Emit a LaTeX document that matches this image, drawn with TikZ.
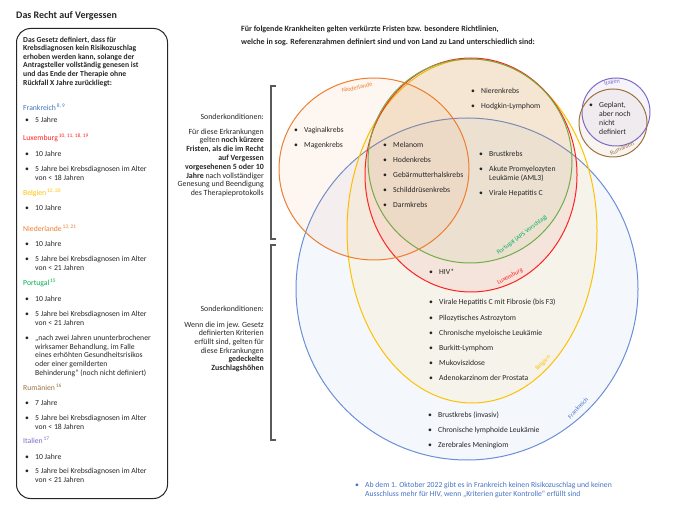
\documentclass[tikz,border=0pt]{standalone}
\usepackage{fontspec}
\setmainfont{Carlito}
\usetikzlibrary{positioning}

\definecolor{txtcol}{HTML}{262626}
\definecolor{frcol}{HTML}{4472C4}
\definecolor{frline}{HTML}{6A8FD8}
\definecolor{lucol}{HTML}{FF2020}
\definecolor{becol}{HTML}{FFC000}
\definecolor{nlcol}{HTML}{ED7D31}
\definecolor{ptcol}{HTML}{70AD47}
\definecolor{pttxt}{HTML}{00B050}
\definecolor{rocol}{HTML}{A0703F}
\definecolor{itcol}{HTML}{7F68C8}
\definecolor{brcol}{HTML}{595959}

\newcommand{\fs}{\fontsize{7.7}{9}\selectfont}
\newcommand{\itm}[1]{\makebox[10pt][l]{\textbullet}\begin{tabular}[t]{@{}l@{}}#1\end{tabular}}
\newcommand{\sups}[1]{\textsuperscript{\,#1}}

\tikzset{
  txt/.style={anchor=base west, inner sep=0pt, font=\fs, text=txtcol},
  land/.style={txt, text=#1},
  rtxt/.style={anchor=base east, inner sep=0pt, font=\fontsize{7.9}{8.8}\selectfont, text=txtcol, align=right},
  lbl/.style={inner sep=0pt, font=\fontsize{6.2}{7}\selectfont, text=#1},
  venn/.style={line width=1pt, draw=#1, fill=#1, fill opacity=0.07},
  klammer/.style={line width=1.3pt, draw=brcol},
  gesetzbox/.style={draw=txtcol, line width=1pt, rounded corners=14pt, anchor=north west}
}

\begin{document}
\begin{tikzpicture}[x=1pt, y=-1pt]
\useasboundingbox (0,0) rectangle (674,510);

% linke Seite: Recht auf Vergessen
\node[anchor=west, inner sep=0pt, font=\bfseries\fontsize{10}{12}\selectfont, text=txtcol] (titel) at (16,16) {Das Recht auf Vergessen};
\node[gesetzbox, minimum width=151pt, minimum height=470pt] (box) at (16,28) {};
\node[txt, anchor=north west, align=left, font=\bfseries\fontsize{7.7}{8.6}\selectfont] (gesetz) at (23,36.5) {Das Gesetz definiert, dass für\\Krebsdiagnosen kein Risikozuschlag\\erhoben werden kann, solange der\\Antragsteller vollständig genesen ist\\und das Ende der Therapie ohne\\Rückfall X Jahre zurückliegt:};

\node[land=frcol] (fr) at (23,110.5) {Frankreich\sups{8, 9}};
\node[txt] (fr1) at (25,122.5) {\itm{5 Jahre}};
\node[land=lucol] (lu) at (23,140.5) {Luxemburg\sups{10, 11, 18, 19}};
\node[txt] (lu1) at (25,156.5) {\itm{10 Jahre}};
\node[txt] (lu2) at (25,171.5) {\itm{5 Jahre bei Krebsdiagnosen im Alter\\von < 18 Jahren}};
\node[land=becol] (be) at (23,195.5) {Belgien\sups{12, 20}};
\node[txt] (be1) at (25,210.5) {\itm{10 Jahre}};
\node[land=nlcol] (nl) at (23,231.5) {Niederlande\sups{13, 21}};
\node[txt] (nl1) at (25,246.5) {\itm{10 Jahre}};
\node[txt] (nl2) at (25,261.5) {\itm{5 Jahre bei Krebsdiagnosen im Alter\\von < 21 Jahren}};
\node[land=pttxt] (pt) at (23,285.5) {Portugal\sups{15}};
\node[txt] (pt1) at (25,301.5) {\itm{10 Jahre}};
\node[txt] (pt2) at (25,316.5) {\itm{5 Jahre bei Krebsdiagnosen im Alter\\von < 21 Jahren}};
\node[txt, font=\fontsize{7.7}{8.7}\selectfont] (pt3) at (25,340.5) {\itm{„nach zwei Jahren ununterbrochener\\wirksamer Behandlung, im Falle\\eines erhöhten Gesundheitsrisikos\\oder einer gemilderten\\Behinderung“ (noch nicht definiert)}};
\node[land=rocol] (ro) at (23,390.5) {Rumänien\sups{16}};
\node[txt] (ro1) at (25,405.5) {\itm{7 Jahre}};
\node[txt] (ro2) at (25,420.5) {\itm{5 Jahre bei Krebsdiagnosen im Alter\\von < 18 Jahren}};
\node[land=itcol] (it) at (23,443.5) {Italien\sups{17}};
\node[txt] (it1) at (25,459.5) {\itm{10 Jahre}};
\node[txt] (it2) at (25,473.5) {\itm{5 Jahre bei Krebsdiagnosen im Alter\\von < 21 Jahren}};

% Ueberschrift rechts
\node[txt, anchor=north west, align=left, font=\bfseries\fontsize{8}{12.8}\selectfont] (kopf) at (241,26) {Für folgende Krankheiten gelten verkürzte Fristen bzw. besondere Richtlinien,\\welche in sog. Referenzrahmen definiert sind und von Land zu Land unterschiedlich sind:};

% Sonderkonditionen
\node[rtxt] (sk1) at (264,119.5) {Sonderkonditionen:};
\node[rtxt, anchor=north east] (sk1text) at (264,128.5) {Für diese Erkrankungen\\gelten \textbf{noch kürzere}\\\textbf{Fristen, als die im Recht}\\\textbf{auf Vergessen}\\\textbf{vorgesehenen 5 oder 10}\\\textbf{Jahre} nach vollständiger\\Genesung und Beendigung\\des Therapieprotokolls};
\node[rtxt] (sk2) at (264,311.5) {Sonderkonditionen:};
\node[rtxt, anchor=north east, font=\fontsize{7.9}{8.7}\selectfont] (sk2text) at (264,321.5) {Wenn die im jew. Gesetz\\definierten Kriterien\\erfüllt sind, gelten für\\diese Erkrankungen\\\textbf{gedeckelte}\\\textbf{Zuschlagshöhen}};
\draw[klammer] (276,86) -- (271,86) -- (271,239) -- (276,239);
\draw[klammer] (276,245) -- (271,245) -- (271,440) -- (276,440);

% Kreise
\draw[venn=frline] (467,289) circle [radius=171pt];
\draw[venn=becol] (472,231) circle [x radius=125pt, y radius=172pt];
\draw[venn=lucol] (471,175) circle [x radius=106pt, y radius=117pt];
\draw[venn=ptcol] (470,161) circle [radius=102pt];
\draw[venn=nlcol] (374,169) circle [x radius=95pt, y radius=91pt];
\draw[venn=itcol] (616,112) circle [radius=34pt];
\draw[venn=rocol] (613,123) circle [radius=34pt];

% Kreisbeschriftungen
\node[lbl=nlcol, rotate=12] (nllbl) at (357,87.5) {Niederlande};
\node[lbl=pttxt, rotate=37] (ptlbl) at (522,235) {Portugal (APS Vorschlag)};
\node[lbl=lucol, rotate=27] (lulbl) at (510,276.5) {Luxemburg};
\node[lbl=becol, rotate=45] (belbl) at (543,363) {Belgien};
\node[lbl=frcol, rotate=47] (frlbl) at (578,408) {Frankreich};
\node[lbl=itcol, rotate=10] (itlbl) at (612,82) {Italien};
\node[lbl=rocol, rotate=24] (rolbl) at (622,148.5) {Rumänien};

% Krankheiten
\node[txt] (vagina) at (294,132.5) {\itm{Vaginalkrebs}};
\node[txt] (magen) at (294,147.5) {\itm{Magenkrebs}};
\node[txt] (mela) at (383,147.5) {\itm{Melanom}};
\node[txt] (hoden) at (383,162.5) {\itm{Hodenkrebs}};
\node[txt] (gebm) at (383,177.5) {\itm{Gebärmutterhalskrebs}};
\node[txt] (schild) at (383,192.5) {\itm{Schilddrüsenkrebs}};
\node[txt] (darm) at (383,207.5) {\itm{Darmkrebs}};
\node[txt] (niere) at (471,93.5) {\itm{Nierenkrebs}};
\node[txt] (hodg) at (471,108.5) {\itm{Hodgkin-Lymphom}};
\node[txt] (brust) at (479,156.5) {\itm{Brustkrebs}};
\node[txt] (aml) at (479,171.5) {\itm{Akute Promyelozyten\\Leukämie (AML3)}};
\node[txt] (hepc) at (479,195.5) {\itm{Virale Hepatitis C}};
\node[txt] (geplant) at (589,107.5) {\itm{Geplant,\\aber noch\\nicht\\definiert}};
\node[txt] (hiv) at (429,274.5) {\itm{HIV*}};
\node[txt] (hepf) at (429,304.5) {\itm{Virale Hepatitis C mit Fibrosie (bis F3)}};
\node[txt] (astro) at (429,320) {\itm{Pilozytisches Astrozytom}};
\node[txt] (cml) at (429,335.5) {\itm{Chronische myeloische Leukämie}};
\node[txt] (burk) at (429,350.5) {\itm{Burkitt-Lymphom}};
\node[txt] (muko) at (429,365.5) {\itm{Mukoviszidose}};
\node[txt] (prost) at (429,380.5) {\itm{Adenokarzinom der Prostata}};
\node[txt] (brinv) at (428,417.5) {\itm{Brustkrebs (invasiv)}};
\node[txt] (cll) at (428,432.5) {\itm{Chronische lymphoide Leukämie}};
\node[txt] (mening) at (428,447.5) {\itm{Zerebrales Meningiom}};

% Fussnote
\node[txt, text=frcol] (hinweis) at (355,487.5) {\itm{Ab dem 1. Oktober 2022 gibt es in Frankreich keinen Risikozuschlag und keinen\\Ausschluss mehr für HIV, wenn „Kriterien guter Kontrolle“ erfüllt sind}};
\end{tikzpicture}
\end{document}
